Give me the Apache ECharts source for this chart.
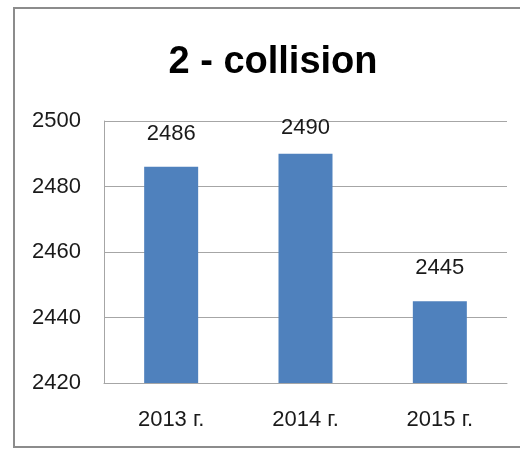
<!DOCTYPE html>
<html lang="en">
<head>
    <meta charset="UTF-8">
    <title>2 - collision</title>
    <script src="https://cdn.jsdelivr.net/npm/echarts@6.0.0/dist/echarts.min.js"></script>
    <style>
        html, body { margin: 0; padding: 0; background: #fff; }
        #chart { width: 520px; height: 449px; }
    </style>
</head>
<body>
    <div id="chart"></div>
    <script>
        const categories = ['2013 г.', '2014 г.', '2015 г.']
        const values = [2486, 2490, 2445]
        const yMin = 2420
        const yMax = 2500
        const yStep = 20

        const chart = echarts.init(document.getElementById('chart'))
        const font = 'Liberation Sans, Arial, sans-serif'
        const gridTop = 121
        const frameStyle = { stroke: '#8c8c8c', lineWidth: 2 }

        const option = {
            animation: false,
            // outer chart frame (right side is cut off in the original)
            graphic: [
                { type: 'polyline', silent: true, shape: { points: [[530, 8], [14, 8], [14, 447], [530, 447]] }, style: frameStyle }
            ],
            title: {
                text: '2 - collision',
                left: 268,
                textAlign: 'center',
                top: 39,
                textStyle: { fontFamily: font, fontSize: 38, fontWeight: 'bold', color: '#000' }
            },
            grid: { left: 104, top: gridTop, right: 13, bottom: 66 },
            xAxis: {
                type: 'category',
                data: categories,
                axisLine: { lineStyle: { color: '#a6a6a6', width: 1 } },
                axisTick: { show: false },
                axisLabel: { fontFamily: font, fontSize: 22, color: '#1a1a1a', margin: 26 }
            },
            yAxis: {
                type: 'value',
                min: yMin,
                max: yMax,
                interval: yStep,
                axisLine: { show: true, lineStyle: { color: '#a6a6a6', width: 1 } },
                axisTick: { show: false },
                splitLine: { lineStyle: { color: '#a6a6a6', width: 1 } },
                axisLabel: {
                    fontFamily: font, fontSize: 22, color: '#1a1a1a', margin: 23,
                    formatter: (v) => String(v)
                }
            },
            series: [{
                type: 'bar',
                data: values,
                barWidth: 54,
                itemStyle: { color: '#4f81bd' },
                label: {
                    show: true,
                    position: 'top',
                    distance: 22,
                    fontFamily: font,
                    fontSize: 22,
                    color: '#1a1a1a'
                }
            }]
        }

        chart.setOption(option)

        // keep labels inside the plot area, like the original
        const data = values.map((v) => {
            const top = chart.convertToPixel({ yAxisIndex: 0 }, v)
            const d = Math.min(22, top - (gridTop - 4) - 22)
            return { value: v, label: { distance: d } }
        })
        chart.setOption({ series: [{ data: data }] })
    </script>
</body>
</html>
